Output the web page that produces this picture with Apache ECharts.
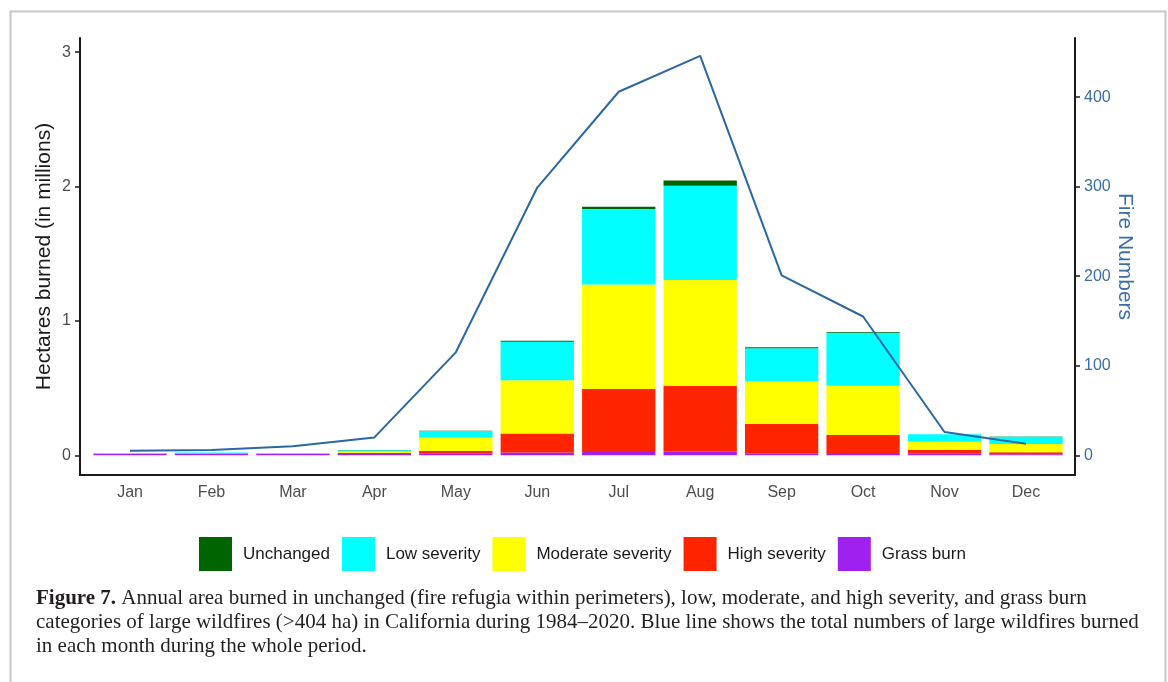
<!DOCTYPE html>
<html>
<head>
<meta charset="utf-8">
<script src="https://cdn.jsdelivr.net/npm/echarts@6/dist/echarts.min.js"></script>
<style>
  html, body { margin: 0; padding: 0; background: #fff; }
  #main { width: 1168px; height: 682px; }
</style>
</head>
<body>
<div id="main"></div>
<script>
// data (hectares in millions, fire counts)
var months = ['Jan','Feb','Mar','Apr','May','Jun','Jul','Aug','Sep','Oct','Nov','Dec'];
var grassBurn = [0.011,0.011,0.011,0.010,0.012,0.020,0.032,0.030,0.012,0.010,0.015,0.008];
var highSev   = [0.002,0.003,0.002,0.007,0.020,0.141,0.461,0.486,0.221,0.141,0.024,0.014];
var modSev    = [0.001,0.003,0.001,0.011,0.099,0.397,0.779,0.788,0.320,0.367,0.062,0.062];
var lowSev    = [0.003,0.003,0.003,0.010,0.050,0.287,0.561,0.702,0.243,0.394,0.055,0.054];
var unchanged = [0,0,0,0.001,0.002,0.008,0.017,0.040,0.008,0.005,0.001,0.001];
var fireNumbers = [5,6,10,20,115,299,406,446,201,155,26,13];
var leftTicks = [0,1,2,3];
var rightTicks = [0,100,200,300,400];

var sans = 'Liberation Sans';
var axisCol = '#1a1a1a';
var blue = '#3a6ea5';

var chart = echarts.init(document.getElementById('main'));

function barSeries(name, data, color) {
  return {
    name: name, type: 'bar', stack: 'area',
    xAxisIndex: 0, yAxisIndex: 0,
    barWidth: '90%',
    itemStyle: { color: color },
    data: data
  };
}

chart.setOption({
  animation: false,
  grid: [
    { left: 89.3, right: 101.3, top: 38, bottom: 207 },
    { left: 80, right: 93, top: 38, bottom: 207 }  // only for full-width x axis line
  ],
  legend: {
    data: ['Unchanged','Low severity','Moderate severity','High severity','Grass burn'],
    left: 199, top: 537, padding: 0,
    icon: 'rect',
    itemWidth: 33, itemHeight: 34, itemGap: 12,
    textStyle: { fontFamily: sans, fontSize: 17, color: '#1a1a1a', padding: [0,0,0,6] }
  },
  xAxis: [{
    type: 'category',
    gridIndex: 0,
    data: months,
    axisLine: { show: false },
    axisTick: { alignWithLabel: true, length: 5, lineStyle: { color: axisCol, width: 1.5 } },
    axisLabel: { color: '#4d4d4d', fontFamily: sans, fontSize: 16, margin: 10 },
    splitLine: { show: false }
  }, {
    type: 'value',
    gridIndex: 1,
    min: 0, max: 1,
    axisLine: { show: true, lineStyle: { color: axisCol, width: 2 } },
    axisTick: { show: false },
    axisLabel: { show: false },
    splitLine: { show: false }
  }],
  yAxis: [{
    type: 'value',
    gridIndex: 0,
    position: 'left',
    offset: 9.3,
    min: -0.147, max: 3.106,
    axisLine: { show: true, lineStyle: { color: axisCol, width: 2 } },
    axisTick: { show: true, length: 5, customValues: leftTicks, lineStyle: { color: axisCol, width: 1.5 } },
    axisLabel: { customValues: leftTicks, color: '#4d4d4d', fontFamily: sans, fontSize: 16, margin: 9 },
    splitLine: { show: false },
    name: 'Hectares burned (in millions)',
    nameLocation: 'middle',
    nameRotate: 90,
    nameGap: 25,
    nameMoveOverlap: false,
    nameTextStyle: { fontFamily: sans, fontSize: 21, color: '#1a1a1a' }
  }, {
    type: 'value',
    gridIndex: 0,
    position: 'right',
    offset: 8.3,
    min: -22, max: 466,
    axisLine: { show: true, lineStyle: { color: axisCol, width: 2 } },
    axisTick: { show: true, length: 5, customValues: rightTicks, lineStyle: { color: axisCol, width: 1.5 } },
    axisLabel: { customValues: rightTicks, color: blue, fontFamily: sans, fontSize: 16, margin: 9 },
    splitLine: { show: false },
    name: 'Fire Numbers',
    nameLocation: 'middle',
    nameRotate: -90,
    nameGap: 39,
    nameMoveOverlap: false,
    nameTextStyle: { fontFamily: sans, fontSize: 21, color: blue }
  }, {
    type: 'value', gridIndex: 1, show: false
  }],
  series: [
    barSeries('Grass burn', grassBurn, '#a020f0'),
    barSeries('High severity', highSev, '#ff2400'),
    barSeries('Moderate severity', modSev, '#ffff00'),
    barSeries('Low severity', lowSev, '#00ffff'),
    barSeries('Unchanged', unchanged, '#006400'),
    {
      name: 'Fire numbers', type: 'line',
      xAxisIndex: 0, yAxisIndex: 1,
      symbol: 'none',
      lineStyle: { color: '#2c66a3', width: 2 },
      itemStyle: { color: '#2c66a3' },
      z: 5,
      data: fireNumbers
    }
  ],
  graphic: [
    { type: 'rect', left: 8, top: 9, shape: { width: 1155, height: 700 },
      style: { fill: 'none', stroke: '#c8c8c8', lineWidth: 2 }, silent: true },
    { type: 'text', left: 36, top: 588,
      style: {
        text: '{b|Figure 7.} Annual area burned in unchanged (fire refugia within perimeters), low, moderate, and high severity, and grass burn',
        font: '21px "Liberation Serif"', fill: '#231f20',
        rich: { b: { fontWeight: 'bold', fontFamily: 'Liberation Serif', fontSize: 21, fill: '#231f20' } }
      } },
    { type: 'text', left: 36, top: 612,
      style: { text: 'categories of large wildfires (>404 ha) in California during 1984\u20132020. Blue line shows the total numbers of large wildfires burned',
        font: '21px "Liberation Serif"', fill: '#231f20' } },
    { type: 'text', left: 36, top: 636,
      style: { text: 'in each month during the whole period.',
        font: '21px "Liberation Serif"', fill: '#231f20' } }
  ]
});
</script>
</body>
</html>
